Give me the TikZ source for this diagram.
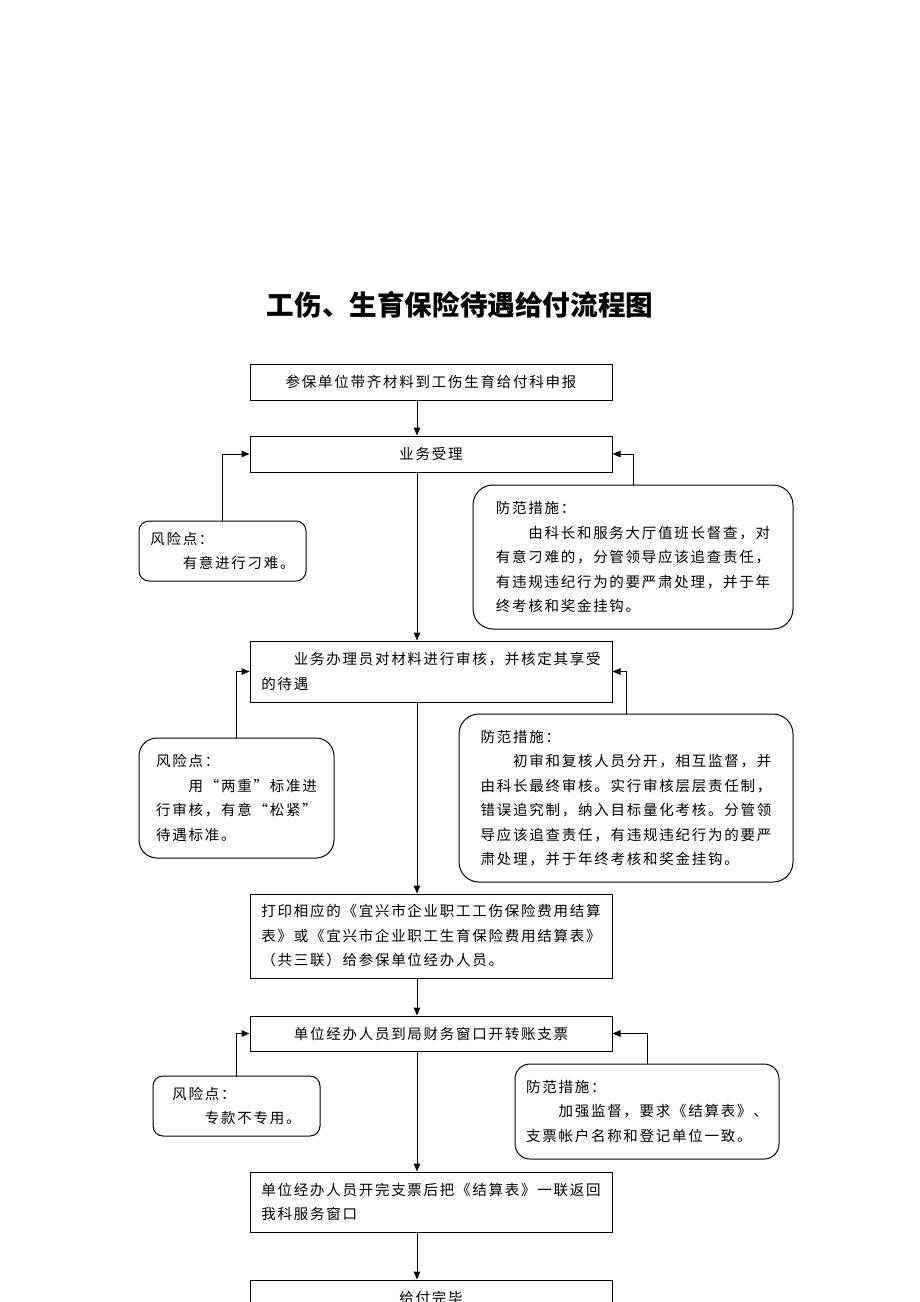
\documentclass[tikz,border=0pt]{standalone}
\usepackage{fontspec}
\usepackage{tikz}
\usetikzlibrary{arrows.meta}
\newfontfamily\cjkfont[LetterSpace=12]{Noto Sans CJK SC}
\newfontfamily\cjktitle{Noto Sans CJK SC}

\begin{document}
\begin{tikzpicture}[x=1pt,y=-1pt,line width=1pt,
  flowbox/.style={draw, rectangle, minimum width=362, inner sep=0pt, align=left,
    font=\cjkfont\fontsize{14.5}{24.5}\selectfont},
  riskbox/.style={draw, rectangle, rounded corners=10, inner sep=0pt, align=left,
    font=\cjkfont\fontsize{14.5}{24.5}\selectfont},
  flowarrow/.style={-{Triangle[length=8pt,width=6.5pt]}}]
  \useasboundingbox (0,0) rectangle (920,1302);

  %% Title
  \node[font=\cjktitle\bfseries\fontsize{27.6}{30}\selectfont] (title) at (460,305) {工伤、生育保险待遇给付流程图};

  %% Main steps
  \node[flowbox, minimum height=36, align=center] (apply)  at (431,382)    {参保单位带齐材料到工伤生育给付科申报};
  \node[flowbox, minimum height=36, align=center] (accept) at (431,454)    {业务受理};
  \node[flowbox, minimum height=61] (review) at (431,671.5)  {　　业务办理员对材料进行审核，并核定其享受\\的待遇};
  \node[flowbox, minimum height=84] (print)  at (431,936)    {打印相应的《宜兴市企业职工工伤保险费用结算\\表》或《宜兴市企业职工生育保险费用结算表》\\（共三联）给参保单位经办人员。};
  \node[flowbox, minimum height=35, align=center] (cheque) at (431,1033.5) {单位经办人员到局财务窗口开转账支票};
  \node[flowbox, minimum height=60] (back)   at (431,1202)   {单位经办人员开完支票后把《结算表》一联返回\\我科服务窗口};
  \node[flowbox, minimum height=36, align=center] (done)   at (431,1298)   {给付完毕};

  %% Risk points (left)
  \node[riskbox, minimum width=167, minimum height=60] (risk1) at (222.5,551)  {风险点：\\　　有意进行刁难。};
  \node[riskbox, minimum width=195, minimum height=120, rounded corners=18] (risk2) at (236.5,798) {风险点：\\　　用“两重”标准进\\行审核，有意“松紧”\\待遇标准。};
  \node[riskbox, minimum width=167, minimum height=60] (risk3) at (236.5,1106) {风险点：\\　　专款不专用。};

  %% Measures (right)
  \node[riskbox, minimum width=320, minimum height=144, rounded corners=20] (guard1) at (633,557) {防范措施：\\　　由科长和服务大厅值班长督查，对\\有意刁难的，分管领导应该追查责任，\\有违规违纪行为的要严肃处理，并于年\\终考核和奖金挂钩。};
  \node[riskbox, minimum width=334, minimum height=168, rounded corners=20] (guard2) at (626,798) {防范措施：\\　　初审和复核人员分开，相互监督，并\\由科长最终审核。实行审核层层责任制，\\错误追究制，纳入目标量化考核。分管领\\导应该追查责任，有违规违纪行为的要严\\肃处理，并于年终考核和奖金挂钩。};
  \node[riskbox, minimum width=264, minimum height=95, rounded corners=15] (guard3) at (647,1111.5) {防范措施：\\　　加强监督，要求《结算表》、\\支票帐户名称和登记单位一致。};

  %% Main flow arrows
  \coordinate (axis) at (417,0);
  \foreach \a/\b in {apply/accept, accept/review, review/print, print/cheque, cheque/back, back/done}
  {
    \draw[flowarrow] (\a.south -| axis) -- (\b.north -| axis);
  }

  %% Side connectors
  \foreach \r/\s in {risk1/accept, risk2/review, risk3/cheque}
  {
    \draw[flowarrow] (\r.north) |- (\s.west);
  }
  \foreach \g/\s in {guard1/accept, guard2/review, guard3/cheque}
  {
    \draw[flowarrow] (\g.north) |- (\s.east);
  }
\end{tikzpicture}
\end{document}
